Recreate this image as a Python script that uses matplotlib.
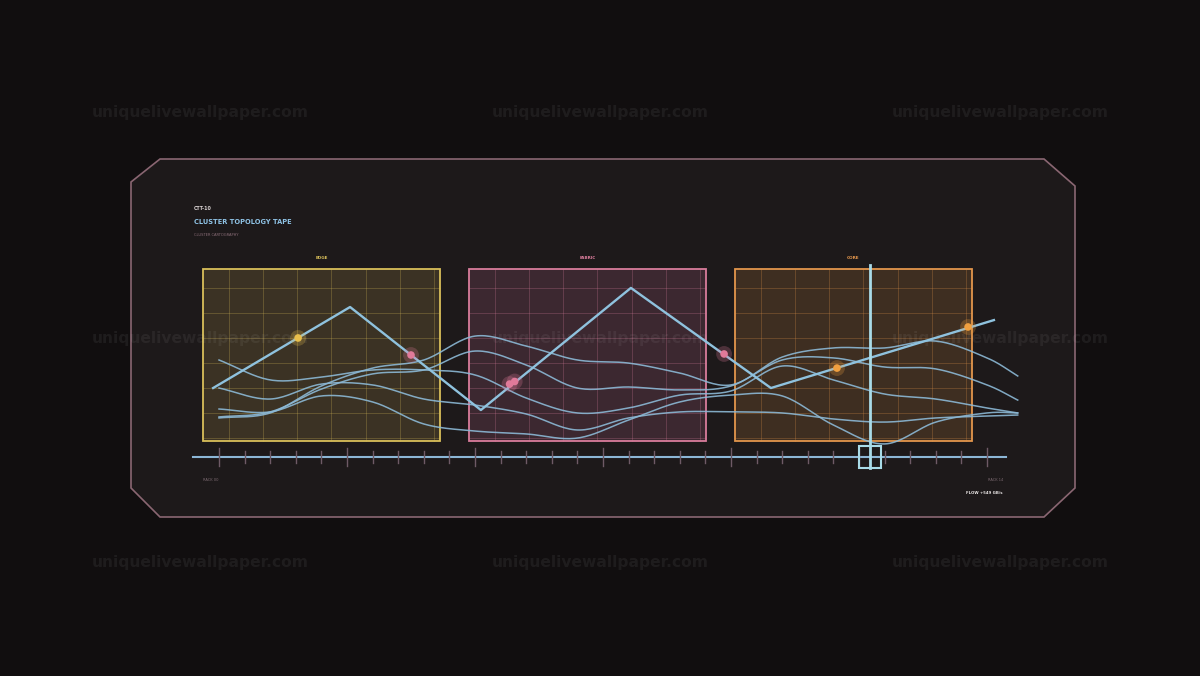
import matplotlib
matplotlib.use("Agg")
import matplotlib.pyplot as plt
import numpy as np
from matplotlib.patches import Polygon, Rectangle

W, H = 1200, 676

# data: time axis in ticks (0..30), values 0..100 on the panel height
panels = ["EDGE", "FABRIC", "CORE"]
panel_colors = ["#d9bf5a", "#d97c9b", "#e3964c"]
panel_fills = ["#3b3224", "#3c2830", "#3e2e21"]

path_t = [-0.23, 5.12, 10.23, 16.09, 21.56, 30.27]
path_v = [30.8, 77.9, 18.0, 89.0, 30.8, 70.3]

event_t = [3.09, 7.5, 11.35, 11.55, 19.73, 24.14, 29.26]
event_v = [59.9, 50.0, 33.1, 34.6, 50.6, 42.4, 66.3]
event_c = ["#e8bf4c", "#e07a9a", "#e07a9a", "#e07a9a", "#e07a9a", "#f0a040", "#f0a040"]

wave_t = [0, 2, 4, 6, 8, 10, 12, 14, 16, 18, 20, 22, 24, 26, 28, 30, 31.2]
waves = [
    [13.4, 16.3, 32.0, 42.4, 47.1, 61.0, 55.2, 47.1, 45.3, 39.5, 32.6, 48.8, 54.1, 54.1, 58.1, 48.3, 37.8],
    [14.0, 16.9, 30.2, 39.0, 41.3, 52.3, 44.2, 30.8, 31.4, 29.7, 32.0, 47.1, 48.3, 43.0, 41.9, 32.6, 23.8],
    [47.1, 35.5, 37.2, 41.3, 41.3, 38.4, 25.0, 16.3, 19.2, 26.7, 29.1, 43.6, 35.5, 27.3, 24.4, 19.2, 16.3],
    [30.8, 24.4, 33.1, 32.6, 24.4, 20.9, 15.7, 6.4, 13.4, 16.9, 16.9, 16.3, 12.8, 11.0, 13.4, 14.5, 15.1],
    [18.6, 16.9, 26.2, 22.7, 9.9, 5.8, 4.1, 1.7, 12.2, 22.7, 26.7, 26.2, 9.3, -1.7, 11.0, 16.3, 16.3],
]

ticks = list(range(0, 31))
cursor_t = 25.43


def smooth(x, y, n=20):
    # catmull-rom through the read points
    x = np.asarray(x, float)
    y = np.asarray(y, float)
    mx = np.gradient(x)
    my = np.gradient(y)
    xs, ys = [], []
    for i in range(len(x) - 1):
        s = np.linspace(0, 1, n, endpoint=False)
        h00 = 2 * s**3 - 3 * s**2 + 1
        h10 = s**3 - 2 * s**2 + s
        h01 = -2 * s**3 + 3 * s**2
        h11 = s**3 - s**2
        xs.append(h00 * x[i] + h10 * mx[i] + h01 * x[i + 1] + h11 * mx[i + 1])
        ys.append(h00 * y[i] + h10 * my[i] + h01 * y[i + 1] + h11 * my[i + 1])
    xs.append([x[-1]])
    ys.append([y[-1]])
    return np.concatenate(xs), np.concatenate(ys)


fig = plt.figure(figsize=(12, 6.76), dpi=100)
fig.patch.set_facecolor("#110e0f")

# canvas in pixel units for the frame and labels
bg = fig.add_axes([0, 0, 1, 1])
bg.set_xlim(0, W)
bg.set_ylim(H, 0)
bg.axis("off")

frame = [(131, 182), (160, 159), (1044, 159), (1075, 186), (1075, 488),
         (1044, 517), (160, 517), (131, 488)]
bg.add_patch(Polygon(frame, closed=True, facecolor="#1d191a", edgecolor="#8a6672", lw=1.2))

for i, name in enumerate(panels):
    x0 = 203 + 266 * i
    col = panel_colors[i]
    bg.add_patch(Rectangle((x0, 269), 237, 172, facecolor=panel_fills[i], edgecolor=col, lw=1.3))
    for gx in np.arange(x0 + 25.5, x0 + 237, 34.3):
        bg.plot([gx, gx], [269, 441], color=col, lw=0.6, alpha=0.3)
    for gy in np.arange(288, 441, 25):
        bg.plot([x0, x0 + 237], [gy, gy], color=col, lw=0.6, alpha=0.3)
    bg.text(x0 + 118.5, 258, name, color=col, fontsize=3.0, fontweight="bold",
            ha="center", va="center")

bg.text(194, 208, "CTT-10", color="#d9d2d2", fontsize=3.4, fontweight="bold", va="center")
bg.text(194, 222, "CLUSTER TOPOLOGY TAPE", color="#8fc3e6", fontsize=4.8, fontweight="bold", va="center")
bg.text(194, 235, "CLUSTER CARTOGRAPHY", color="#8b6e78", fontsize=2.6, va="center")
bg.text(203, 480, "RACK 00", color="#7d6a72", fontsize=2.6, va="center")
bg.text(1003, 480, "RACK 14", color="#7d6a72", fontsize=2.6, va="center", ha="right")
bg.text(1003, 493, "FLOW +549 GB/s", color="#e8e4e4", fontsize=2.8, fontweight="bold",
        va="center", ha="right")

# data axes: t 0..30 over x 219..987 px, v 0..100 over y 441..269 px
ax = fig.add_axes([219 / W, (H - 441) / H, 768 / W, 172 / H])
ax.set_xlim(0, 30)
ax.set_ylim(0, 100)
ax.axis("off")

for wv in waves:
    sx, sy = smooth(wave_t, wv)
    ax.plot(sx, sy, color="#8cb9d6", lw=1.1, alpha=0.9, clip_on=False)

ax.plot(path_t, path_v, color="#8fc2de", lw=1.7, clip_on=False, zorder=4)

ax.scatter(event_t, event_v, s=130, c=event_c, alpha=0.25, lw=0, clip_on=False, zorder=5)
ax.scatter(event_t, event_v, s=30, c=event_c, lw=0, clip_on=False, zorder=6)

# tape axis
base_v = -9.3
ax.plot([-1.02, 30.74], [base_v, base_v], color="#8cb6d6", lw=1.5, clip_on=False, zorder=3)
for t in ticks:
    half = 5.5 if t % 5 == 0 else 3.5
    ax.plot([t, t], [base_v - half, base_v + half], color="#6e5a66", lw=1.0,
            clip_on=False, zorder=4)

# cursor
ax.plot([cursor_t, cursor_t], [-15.7, 102.3], color="#a9dbe8", lw=2.0, clip_on=False, zorder=7)
ax.add_patch(Rectangle((cursor_t - 0.43, -15.7), 0.86, 12.8, facecolor="none",
                       edgecolor="#a9dbe8", lw=1.5, clip_on=False, zorder=7))

# watermark
for wy in [113, 338, 563]:
    for wx in [200, 600, 1000]:
        bg.text(wx, wy, "uniquelivewallpaper.com", color="white", alpha=0.06,
                fontsize=11.2, fontweight="bold", ha="center", va="center", zorder=20)

fig.savefig("out.png", dpi=100, facecolor=fig.get_facecolor())
